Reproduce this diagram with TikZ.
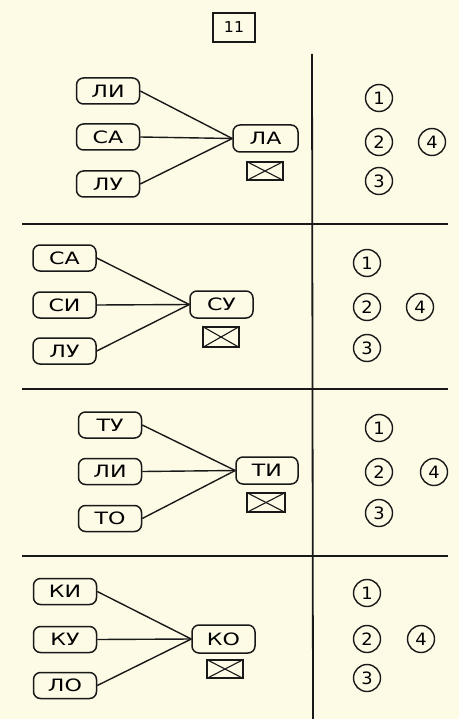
\documentclass[tikz,border=0pt]{standalone}
\usepackage{fontspec}
\setmainfont{DejaVu Sans}
\newfontfamily\labfont{DejaVu Sans}[FakeStretch=1.3]
\newfontfamily\digfont{DejaVu Sans}[FakeStretch=1.05]
\begin{document}
\begin{tikzpicture}[x=1pt,y=-1pt,
  ink/.style={draw=black!90, line width=1.5pt},
  syl/.style={ink, rounded corners=7pt, minimum width=63pt, minimum height=26pt,
    inner sep=0pt, font=\labfont\fontsize{17}{17}\selectfont},
  link/.style={draw=black!90, line width=1.4pt},
  num/.style={ink, line width=1.4pt, circle, minimum size=27pt, inner sep=0pt,
    font=\digfont\fontsize{17}{17}\selectfont},
  crossbox/.style={ink, line width=1.2pt, minimum width=36pt, minimum height=18pt, inner sep=0pt},
  diag/.style={draw=black!90, line width=1.1pt},
  rule/.style={draw=black!90, line width=1.8pt}
]
\definecolor{paper}{HTML}{FDFAE6}
\fill[paper] (0,0) rectangle (459,719);
\useasboundingbox (0,0) rectangle (459,719);

% title box
\node[ink, minimum width=42pt, minimum height=29pt, inner sep=0pt,
  font=\digfont\fontsize{15}{15}\selectfont] (title) at (234,27.5) {11};

% rules
\coordinate (vtop) at (312,54);
\coordinate (vbot) at (313,719);
\draw[rule] (vtop) -- (vbot);
\coordinate (h1a) at (22,224); \coordinate (h1b) at (448,224);
\coordinate (h2a) at (22,389); \coordinate (h2b) at (448,389);
\coordinate (h3a) at (22,556); \coordinate (h3b) at (448,556);
\draw[rule] (h1a) -- (h1b);
\draw[rule] (h2a) -- (h2b);
\draw[rule] (h3a) -- (h3b);

% section 1
\node[syl] (a1) at (108,91) {ЛИ};
\node[syl] (a2) at (108,137) {СА};
\node[syl] (a3) at (108,184) {ЛУ};
\node[syl, minimum width=65pt, minimum height=27pt] (ar) at (265.5,138.5) {ЛА};
\draw[link] (a1.east) -- (ar.west);
\draw[link] (a2.east) -- (ar.west);
\draw[link] (a3.east) -- (ar.west);
\node[crossbox] (ax) at (265,171) {};
\draw[diag] (ax.north west) -- (ax.south east);
\draw[diag] (ax.south west) -- (ax.north east);
\node[num] (a1n) at (379,98) {1};
\node[num] (a2n) at (379,142) {2};
\node[num] (a3n) at (379,181) {3};
\node[num] (a4n) at (432,142) {4};

% section 2
\node[syl] (b1) at (64.5,258) {СА};
\node[syl] (b2) at (64.5,305) {СИ};
\node[syl] (b3) at (64.5,351) {ЛУ};
\node[syl, minimum width=63pt, minimum height=27pt] (br) at (221.5,304.5) {СУ};
\draw[link] (b1.east) -- (br.west);
\draw[link] (b2.east) -- (br.west);
\draw[link] (b3.east) -- (br.west);
\node[crossbox, minimum height=20pt] (bx) at (221,337) {};
\draw[diag] (bx.north west) -- (bx.south east);
\draw[diag] (bx.south west) -- (bx.north east);
\node[num] (b1n) at (367,263) {1};
\node[num] (b2n) at (367,307) {2};
\node[num] (b3n) at (367,348) {3};
\node[num] (b4n) at (420,307) {4};

% section 3
\node[syl] (c1) at (110,425) {ТУ};
\node[syl] (c2) at (110,471.5) {ЛИ};
\node[syl] (c3) at (110,518.5) {ТО};
\node[syl, minimum width=62pt, minimum height=27pt] (cr) at (267,470.5) {ТИ};
\draw[link] (c1.east) -- (cr.west);
\draw[link] (c2.east) -- (cr.west);
\draw[link] (c3.east) -- (cr.west);
\node[crossbox, minimum width=38pt, minimum height=19pt] (cx) at (266,502.5) {};
\draw[diag] (cx.north west) -- (cx.south east);
\draw[diag] (cx.south west) -- (cx.north east);
\node[num] (c1n) at (379,428) {1};
\node[num] (c2n) at (379,472) {2};
\node[num] (c3n) at (379,513) {3};
\node[num] (c4n) at (434,472) {4};

% section 4
\node[syl] (d1) at (65,591.5) {КИ};
\node[syl] (d2) at (65,639.5) {КУ};
\node[syl] (d3) at (65,685.5) {ЛО};
\node[syl, minimum width=63pt, minimum height=28pt] (dr) at (223.5,639) {КО};
\draw[link] (d1.east) -- (dr.west);
\draw[link] (d2.east) -- (dr.west);
\draw[link] (d3.east) -- (dr.west);
\node[crossbox] (dx) at (225,669) {};
\draw[diag] (dx.north west) -- (dx.south east);
\draw[diag] (dx.south west) -- (dx.north east);
\node[num] (d1n) at (367,593) {1};
\node[num] (d2n) at (367,639) {2};
\node[num] (d3n) at (367,678) {3};
\node[num] (d4n) at (421,639) {4};
\end{tikzpicture}
\end{document}
